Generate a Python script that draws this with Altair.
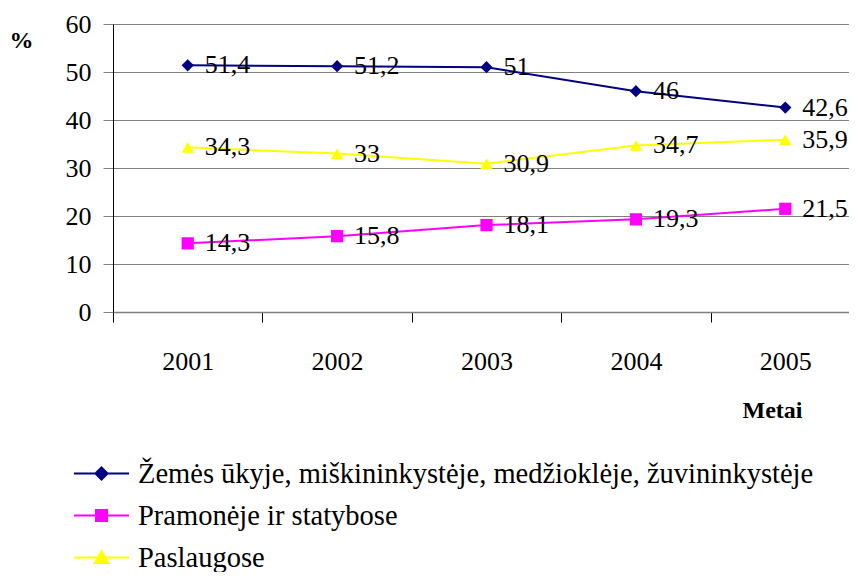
import altair as alt
import pandas as pd

years = ["2001", "2002", "2003", "2004", "2005"]
series = [
    "Žemės ūkyje, miškininkystėje, medžioklėje, žuvininkystėje",
    "Pramonėje ir statybose",
    "Paslaugose",
]
agri = [51.4, 51.2, 51.0, 46.0, 42.6]
industry = [14.3, 15.8, 18.1, 19.3, 21.5]
services = [34.3, 33.0, 30.9, 34.7, 35.9]
colors = ["#000080", "#FF00FF", "#FFFF00"]
shapes = ["diamond", "square", "triangle-up"]
legend_shapes = [
    "M-1.5,0H1.5M0,-0.33L0.33,0L0,0.33L-0.33,0Z",
    "M-1.5,0H1.5M-0.3,-0.3H0.3V0.3H-0.3Z",
    "M-1.5,0H1.5M0,-0.34L0.37,0.3H-0.37Z",
]
y_ticks = [0, 10, 20, 30, 40, 50, 60]

rows = []
for name, vals in zip(series, [agri, industry, services]):
    for yr, v in zip(years, vals):
        rows.append({"year": yr, "series": name, "value": v,
                     "label": f"{v:g}".replace(".", ",")})
df = pd.DataFrame(rows)

FONT = "Liberation Serif"

x_enc = alt.X(
    "year:N", sort=years, title="Metai",
    scale=alt.Scale(paddingInner=0, paddingOuter=0, range=[0, 747]),
    axis=alt.Axis(
        labelAngle=0, tickBand="extent", labelFont=FONT, labelFontSize=26,
        labelColor="black", labelPadding=26, tickSize=10, tickColor="black",
        domainColor="#808080", domainWidth=1.5, grid=False,
        titleFont=FONT, titleFontSize=24, titleFontWeight="bold",
        titleColor="black", titleX=659, titleY=105, titleAlign="center",
        titleBaseline="alphabetic", titleAnchor="start",
    ),
)
y_enc = alt.Y(
    "value:Q", title="%",
    scale=alt.Scale(domain=[0, 60], nice=False, zero=True),
    axis=alt.Axis(
        values=y_ticks, labelFont=FONT, labelFontSize=26, labelColor="black",
        labelPadding=12, tickSize=10, tickColor="#808080",
        domainColor="black", domainWidth=1, grid=True, gridColor="#808080",
        gridWidth=1, gridOpacity=1,
        titleFont=FONT, titleFontSize=24, titleFontWeight="bold",
        titleColor="black", titleAngle=0, titleX=-92, titleY=16,
        titleAlign="center", titleBaseline="middle", titleAnchor="start",
    ),
)

color_scale = alt.Scale(domain=series, range=colors)

base = alt.Chart(df).encode(x=x_enc, y=y_enc)

lines = base.mark_line(strokeWidth=2).encode(
    color=alt.Color("series:N", scale=color_scale, legend=None),
    detail="series:N",
)
points = base.mark_point(filled=True, size=150, opacity=1).encode(
    color=alt.Color("series:N", scale=color_scale, legend=None),
    shape=alt.Shape("series:N", scale=alt.Scale(domain=series, range=shapes), legend=None),
)
labels = base.mark_text(
    align="left", baseline="middle", dx=17, font=FONT, fontSize=26, color="black"
).encode(text="label:N", detail="series:N")

legend_layer = base.mark_point(filled=True, opacity=1, strokeWidth=2).encode(
    color=alt.Color("series:N", scale=alt.Scale(domain=series, range=colors),
                    legend=alt.Legend(
                        title=None, orient="none", legendX=-31, legendY=430,
                        direction="vertical", symbolSize=1347,
                        symbolStrokeWidth=2, labelFont=FONT, labelFontSize=28.5,
                        labelColor="black", labelOffset=17, rowPadding=8,
                        padding=0, labelLimit=2000)),
    stroke=alt.Stroke("series:N", scale=alt.Scale(domain=series, range=colors)),
    shape=alt.Shape("series:N", scale=alt.Scale(domain=series, range=legend_shapes)),
).transform_filter("datum.value < -1000")

chart = (
    alt.layer(lines, points, labels, legend_layer)
    .resolve_scale(color="independent", shape="independent", stroke="independent")
    .properties(width=736, height=288,
                autosize=alt.AutoSizeParams(type="none"),
                padding={"left": 105, "top": 16, "right": 0, "bottom": 260})
    .configure_view(stroke=None)
)

chart.save("out.html", embed_options={"renderer": "svg", "actions": False})
